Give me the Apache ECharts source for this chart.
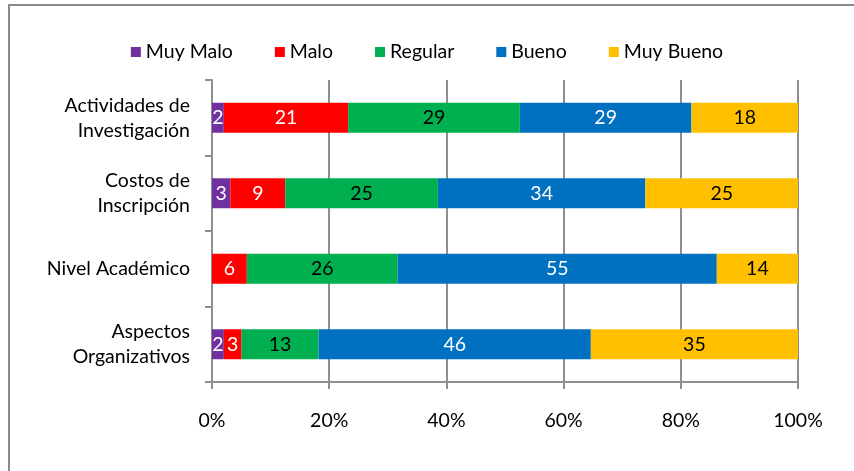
<!DOCTYPE html>
<html>
<head>
<meta charset="utf-8">
<script src="https://cdn.jsdelivr.net/npm/echarts@6/dist/echarts.min.js"></script>
<style>
  html, body { margin: 0; padding: 0; background: #fff; }
  #chart { width: 854px; height: 471px; }
</style>
</head>
<body>
<div id="chart"></div>
<script>
// categories, top to bottom
const categories = ['Actividades de\nInvestigación', 'Costos de\nInscripción', 'Nivel Académico', 'Aspectos\nOrganizativos']
const seriesNames = ['Muy Malo', 'Malo', 'Regular', 'Bueno', 'Muy Bueno']
const muyMalo = [2, 3, 0, 2]
const malo = [21, 9, 6, 3]
const regular = [29, 25, 26, 13]
const bueno = [29, 34, 55, 46]
const muyBueno = [18, 25, 14, 35]
const xTicks = ['0%', '20%', '40%', '60%', '80%', '100%']

const colors = ['#7030A0', '#FF0000', '#00B050', '#0070C0', '#FFC000']
const labelColors = ['#fff', '#fff', '#000', '#fff', '#000']
const font = 'Lato, "Open Sans", sans-serif'
const fs = 19.5

const raw = [muyMalo, malo, regular, bueno, muyBueno]
// 100% stacked: share of each row total
const totals = categories.map((c, i) => raw.reduce((s, arr) => s + arr[i], 0))

const series = raw.map((arr, k) => ({
  name: seriesNames[k],
  type: 'bar',
  stack: 'total',
  barWidth: 30,
  itemStyle: { color: colors[k] },
  label: {
    show: true,
    position: 'inside',
    color: labelColors[k],
    fontFamily: font,
    fontSize: fs,
    formatter: p => (arr[p.dataIndex] ? String(arr[p.dataIndex]) : '')
  },
  data: arr.map((v, i) => v / totals[i] * 100)
}))

const chart = echarts.init(document.getElementById('chart'))
chart.setOption({
  animation: false,
  textStyle: { fontFamily: font },
  graphic: [{
    type: 'rect',
    shape: { x: 9, y: 5, width: 900, height: 500 },
    style: { fill: 'none', stroke: '#8a8a8a', lineWidth: 2 }
  }],
  legend: {
    top: 37,
    left: 'center',
    itemWidth: 10,
    itemHeight: 10,
    itemGap: 42,
    icon: 'rect',
    textStyle: { fontFamily: font, fontSize: fs, color: '#000' },
    data: seriesNames
  },
  grid: { left: 212, right: 56, top: 80, bottom: 89 },
  xAxis: {
    type: 'value',
    min: 0,
    max: 100,
    interval: 20,
    axisLine: { show: true, lineStyle: { color: '#8e8e8e', width: 2 } },
    axisTick: { show: true, length: 7, lineStyle: { color: '#8e8e8e', width: 2 } },
    splitLine: { show: true, lineStyle: { color: '#8e8e8e', width: 2 } },
    axisLabel: {
      margin: 29,
      color: '#000',
      fontFamily: font,
      fontSize: fs,
      formatter: v => xTicks[Math.round(v / 20)]
    }
  },
  yAxis: {
    type: 'category',
    inverse: true,
    data: categories,
    axisLine: { show: true, lineStyle: { color: '#8e8e8e', width: 2 } },
    axisTick: { show: true, length: 7, lineStyle: { color: '#8e8e8e', width: 2 } },
    axisLabel: {
      margin: 22,
      color: '#000',
      fontFamily: font,
      fontSize: fs,
      lineHeight: 25,
      align: 'right'
    }
  },
  series: series
})
</script>
</body>
</html>
